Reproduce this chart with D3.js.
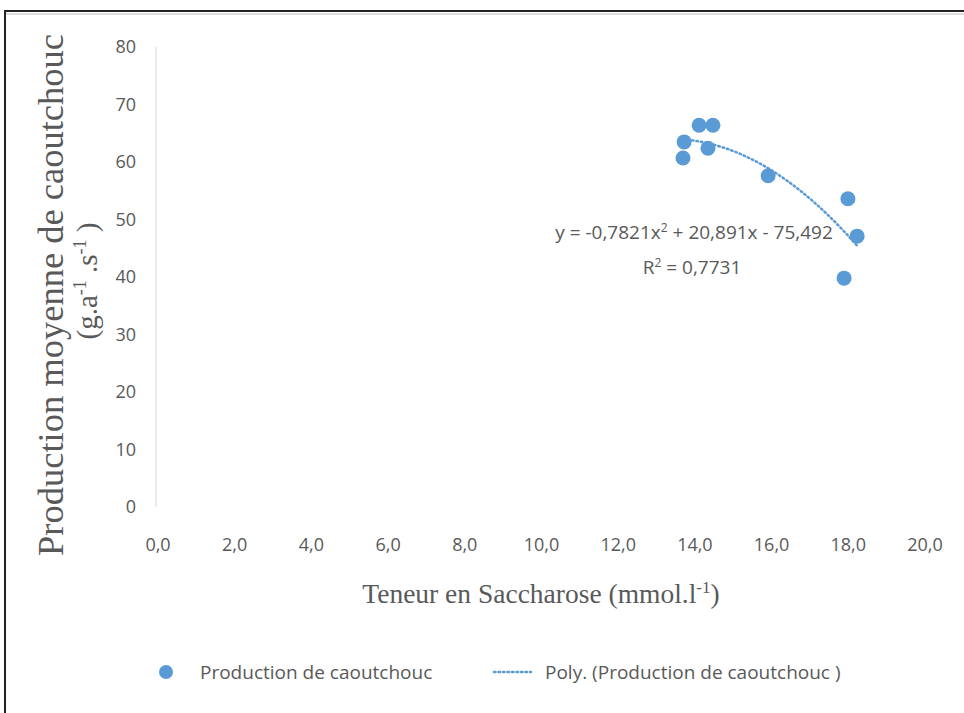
<!DOCTYPE html>
<html>
<head>
<meta charset="utf-8">
<script src="https://cdn.jsdelivr.net/npm/d3@7"></script>
<style>
  body { margin: 0; background: #fff; }
  .tick-label { font-family: "Open Sans", sans-serif; fill: #595959; font-size: 18px; }
  .serif-title { font-family: "Liberation Serif", "DejaVu Serif", serif; fill: #595959; }
</style>
</head>
<body>
<script>
// data
const saccharose = [13.69, 13.72, 14.11, 14.47, 14.34, 15.91, 17.99, 18.23, 17.89];
const production = [60.7, 63.5, 66.4, 66.4, 62.4, 57.6, 53.6, 47.1, 39.8];
const polyCoefs = [-0.7821, 20.891, -75.492]; // a, b, c as printed on the chart
const xTicks = [0, 2, 4, 6, 8, 10, 12, 14, 16, 18, 20];
const yTicks = [0, 10, 20, 30, 40, 50, 60, 70, 80];

const W = 964, H = 713;
const blue = "#5b9bd5";

const svg = d3.select("body").append("svg")
    .attr("width", W)
    .attr("height", H);

// chart frame (cut off on the right and bottom)
svg.append("rect")
    .attr("x", 5).attr("y", 11)
    .attr("width", W + 20).attr("height", H + 20)
    .attr("fill", "none")
    .attr("stroke", "#222")
    .attr("stroke-width", 2);
svg.append("line")
    .attr("x1", 6).attr("x2", W).attr("y1", 14).attr("y2", 14)
    .attr("stroke", "#ddd").attr("stroke-width", 2);

const xScale = d3.scaleLinear().domain([0, 20]).range([158, 925]);
const yScale = d3.scaleLinear().domain([0, 80]).range([507, 47]);

// y axis line
svg.append("line")
    .attr("x1", 156).attr("x2", 156)
    .attr("y1", yScale(80)).attr("y2", yScale(0))
    .attr("stroke", "#d9d9d9").attr("stroke-width", 1);

// y tick labels
svg.append("g").selectAll("text")
    .data(yTicks)
    .enter().append("text")
    .attr("class", "tick-label")
    .attr("x", 136)
    .attr("y", d => yScale(d))
    .attr("dy", "0.35em")
    .attr("text-anchor", "end")
    .text(d => d);

// x tick labels
const fmt = d => d.toFixed(1).replace(".", ",");
svg.append("g").selectAll("text")
    .data(xTicks)
    .enter().append("text")
    .attr("class", "tick-label")
    .attr("x", d => xScale(d))
    .attr("y", 545)
    .attr("dy", "0.35em")
    .attr("text-anchor", "middle")
    .text(fmt);

// trendline
const poly = x => polyCoefs[0] * x * x + polyCoefs[1] * x + polyCoefs[2];
const xMin = d3.min(saccharose), xMax = d3.max(saccharose);
const curveX = d3.range(0, 41).map(i => xMin + (xMax - xMin) * i / 40);
svg.append("path")
    .datum(curveX)
    .attr("d", d3.line().x(d => xScale(d)).y(d => yScale(poly(d))))
    .attr("fill", "none")
    .attr("stroke", blue)
    .attr("stroke-width", 2.5)
    .attr("stroke-dasharray", "1.5,3")
    .attr("stroke-linecap", "round");

// points
svg.append("g").selectAll("circle")
    .data(saccharose.map((x, i) => ({ x: x, y: production[i] })))
    .enter().append("circle")
    .attr("cx", d => xScale(d.x))
    .attr("cy", d => yScale(d.y))
    .attr("r", 7.5)
    .attr("fill", blue);

// equation label
const eq = svg.append("text")
    .attr("class", "tick-label")
    .attr("text-anchor", "middle")
    .style("font-size", "19px");
eq.append("tspan").attr("x", 694).attr("y", 239).text("y = -0,7821x");
eq.append("tspan").attr("dy", -7).style("font-size", "12px").text("2");
eq.append("tspan").attr("dy", 7).text(" + 20,891x - 75,492");
const r2 = svg.append("text")
    .attr("class", "tick-label")
    .attr("text-anchor", "middle")
    .style("font-size", "19px");
r2.append("tspan").attr("x", 692).attr("y", 274).text("R");
r2.append("tspan").attr("dy", -7).style("font-size", "12px").text("2");
r2.append("tspan").attr("dy", 7).text(" = 0,7731");

// x title
const xt = svg.append("text")
    .attr("class", "serif-title")
    .attr("x", 541).attr("y", 603)
    .attr("text-anchor", "middle")
    .style("font-size", "27.5px");
xt.append("tspan").text("Teneur en Saccharose (mmol.l");
xt.append("tspan").attr("dy", -10).style("font-size", "17px").text("-1");
xt.append("tspan").attr("dy", 10).text(")");

// y title
const yt = svg.append("g").attr("transform", "translate(0,295) rotate(-90)");
yt.append("text")
    .attr("class", "serif-title")
    .attr("x", 0).attr("y", 63)
    .attr("text-anchor", "middle")
    .style("font-size", "36.5px")
    .text("Production moyenne de caoutchouc");
const yt2 = yt.append("text")
    .attr("class", "serif-title")
    .attr("x", 14).attr("y", 97)
    .attr("text-anchor", "middle")
    .style("font-size", "29px");
yt2.append("tspan").text("(g.a");
yt2.append("tspan").attr("dy", -11).style("font-size", "18px").text("-1");
yt2.append("tspan").attr("dy", 11).text(" .s");
yt2.append("tspan").attr("dy", -11).style("font-size", "18px").text("-1");
yt2.append("tspan").attr("dy", 11).text(" )");

// legend
const legend = svg.append("g");
legend.append("circle")
    .attr("cx", 166).attr("cy", 672).attr("r", 7)
    .attr("fill", blue);
legend.append("text")
    .attr("class", "tick-label")
    .attr("x", 200).attr("y", 672).attr("dy", "0.35em")
    .style("font-size", "19px")
    .text("Production de caoutchouc");
legend.append("line")
    .attr("x1", 494).attr("x2", 531).attr("y1", 672).attr("y2", 672)
    .attr("stroke", blue).attr("stroke-width", 2.5)
    .attr("stroke-dasharray", "1.5,3").attr("stroke-linecap", "round");
legend.append("text")
    .attr("class", "tick-label")
    .attr("x", 545).attr("y", 672).attr("dy", "0.35em")
    .style("font-size", "19px")
    .text("Poly. (Production de caoutchouc )");
</script>
</body>
</html>
